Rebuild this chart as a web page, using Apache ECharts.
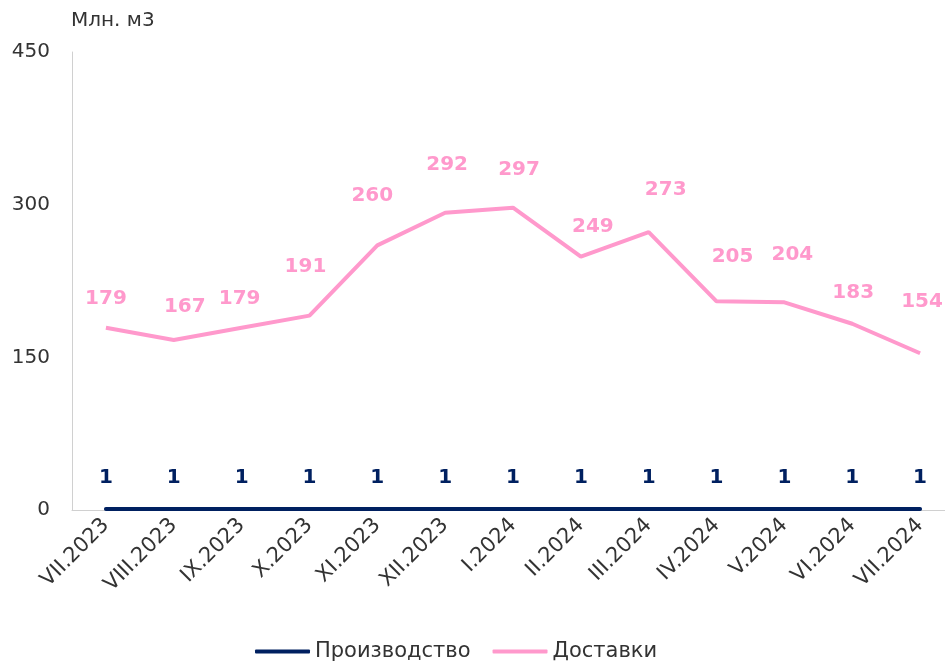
<!DOCTYPE html>
<html>
<head>
<meta charset="utf-8">
<script src="https://cdn.jsdelivr.net/npm/echarts@6/dist/echarts.min.js"></script>
<style>
  html, body { margin: 0; padding: 0; background: #fff; }
  #chart { width: 945px; height: 667px; }
</style>
</head>
<body>
<div id="chart"></div>
<script>
const months = ['VII.2023', 'VIII.2023', 'IX.2023', 'X.2023', 'XI.2023', 'XII.2023', 'I.2024',
  'II.2024', 'III.2024', 'IV.2024', 'V.2024', 'VI.2024', 'VII.2024']
const production = [1, 1, 1, 1, 1, 1, 1, 1, 1, 1, 1, 1, 1]
const deliveries = [179, 167, 179, 191, 260, 292, 297, 249, 273, 205, 204, 183, 154]
const yTicks = [0, 150, 300, 450]

// labels in the original were nudged by hand: lift above the line and sideways shift, px
const labelLift = [19, 23, 19, 39, 40, 38, 28, 20, 32, 35, 38, 21, 41]
const labelShift = [0, 11, -2, -4, -5, 2, 6, 12, 17, 16, 8, 1, 2]

const font = '"DejaVu Sans", Verdana, sans-serif'
const pink = '#ff99cc'
const navy = '#002060'
const chart = echarts.init(document.getElementById('chart'))

const deliveryItems = deliveries.map((v, i) => ({
  value: v,
  label: { distance: labelLift[i], offset: [labelShift[i], 0] }
}))

const option = {
  animation: false,
  textStyle: { fontFamily: font },
  title: {
    text: 'Млн. м3',
    left: 66,
    top: 6,
    textStyle: { fontFamily: font, fontSize: 20, fontWeight: 'normal', color: '#333' }
  },
  legend: {
    data: ['Производство', 'Доставки'],
    bottom: 0,
    left: 250,
    itemWidth: 55,
    itemHeight: 4,
    itemGap: 22,
    icon: 'roundRect',
    textStyle: { fontFamily: font, fontSize: 21, color: '#333' }
  },
  grid: { left: 72, top: 52, bottom: 157, width: 882, outerBoundsMode: 'none' },
  xAxis: {
    type: 'category',
    data: months,
    boundaryGap: true,
    axisLine: { lineStyle: { color: '#d0d0d0' } },
    axisTick: { show: false },
    axisLabel: { rotate: 45, fontFamily: font, fontSize: 21, color: '#333', margin: 12, interval: 0 }
  },
  yAxis: {
    type: 'value',
    min: 0,
    max: 450,
    interval: 150,
    axisLine: { show: true, lineStyle: { color: '#d0d0d0' } },
    axisTick: { show: false },
    splitLine: { show: false },
    axisLabel: {
      fontFamily: font, fontSize: 20, color: '#333', margin: 22,
      formatter: v => yTicks.includes(v) ? String(v) : ''
    }
  },
  series: [
    {
      name: 'Производство',
      type: 'line',
      data: production,
      symbol: 'circle',
      symbolSize: 0,
      showSymbol: true,
      lineStyle: { color: navy, width: 4, cap: 'round' },
      itemStyle: { color: navy },
      label: {
        show: true, position: 'top', distance: 21,
        fontFamily: font, fontSize: 20, fontWeight: 'bold', color: navy
      },
      z: 3
    },
    {
      name: 'Доставки',
      type: 'line',
      data: deliveryItems,
      symbol: 'circle',
      symbolSize: 0,
      showSymbol: true,
      lineStyle: { color: pink, width: 4 },
      itemStyle: { color: pink },
      label: {
        show: true, position: 'top',
        fontFamily: font, fontSize: 20, fontWeight: 'bold', color: pink
      },
      z: 2
    }
  ]
}

chart.setOption(option)
</script>
</body>
</html>
